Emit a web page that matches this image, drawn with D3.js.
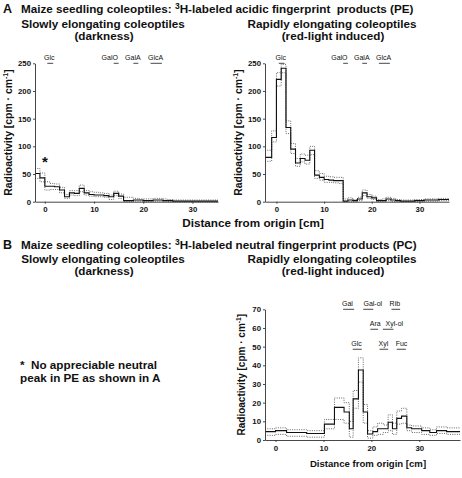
<!DOCTYPE html>
<html><head><meta charset="utf-8">
<script src="https://cdn.jsdelivr.net/npm/d3@7"></script>
<style>body{margin:0;background:#fff} text{font-family:"Liberation Sans",Arial,Helvetica,sans-serif}</style>
</head><body><svg id="c" width="462" height="478"></svg>
<script>
// ---------- DATA ----------
// Panel A, left (darkness): 1-cm bins, edges in cm
const edgesAL = [-2,-1,0,1,2,3,4,5,6,7,8,9,10,11,12,13,14,15,16,17,18,19,20,21,22,23,24,25,26,27,28,29,30,31,32,33,34,35.2];
const meanAL  = [51,43,28,28,27,21,9,16,15,24,16,13,12,12,11,9,15,10,2,2,3,3,2,2,3,3,2,2,1,1,1,1,1,1,1,1,1];
const upperAL = [60,52,36,33,32,26,13,20,20,30,20,18,17,16,15,12,19,14,8,8,6,5,5,5,6,6,5,4,3,3,3,3,3,3,3,3,3];
const lowerAL = [42,36,21,22,22,16,6,12,11,18,12,10,9,9,8,4,11,6,0,0,1,1,0,0,1,1,0,0,0,0,0,0,0,0,0,0,0];
// Panel A, right (red light)
const edgesAR = [-2.4,-1,0,1,2,3,4,5,6,7,8,9,10,11,12,13,14,15,16,17,18,19,20,21,22,23,24,25,26,27,28,29,30,31,32,33,34,35,36.2];
const meanAR  = [80,116,221,241,134,95,70,78,75,93,48,44,40,39,38,38,1,3,2,5,16,9,7,2,2,5,3,2,1,1,1,2,2,3,3,3,4,4];
const upperAR = [93,128,233,248,146,105,78,86,84,100,56,51,46,45,44,44,5,7,4,8,21,13,10,4,5,8,6,4,3,3,3,4,4,5,5,5,6,6];
const lowerAR = [73,108,209,233,123,87,64,72,68,85,42,39,35,35,34,33,0,0,0,2,11,6,4,0,0,2,0,0,0,0,0,0,0,1,1,1,2,2];
// Panel B, right (red light), variable-width fractions
const edgesBR = [-2.2,0,2.3,6.5,10.2,12.3,14.3,15.4,16.2,17.3,18.3,19.2,20.3,21.3,22.5,23.5,24.4,25.3,26.3,27.4,28.4,30.5,32.2,33.6,35.7,38.5];
const meanBR  = [4.5,5,4,3.5,8.5,17.5,15,6,22,37.5,15,3.2,4.5,6,6,9.5,6,11.6,12.8,6.6,6,5,4,5,4.5];
const upperBR = [6,6.5,5.5,5,11,22.5,20,10,26.5,44,19,5,7,9,8,13.5,9,15.5,17,8,7.5,6.5,5.5,7,6.5];
const lowerBR = [2.5,3,2,1.5,6,11,9,1.5,17,31,9,1,2.5,3,4,5,3,8.5,9,5,4,3,2.5,3.5,3];

// Standards (acidic)
const stdA_names = ["Glc","GalO","GalA","GlcA"];
const stdA_text  = [0.9,13.2,17.9,22.5];
const stdA_from  = [0.5,14.0,18.0,21.5];
const stdA_to    = [1.7,15.0,19.0,23.8];
// Standards (neutral)
const stdB_names = ["Gal","Gal-ol","Rib","Ara","Xyl-ol","Glc","Xyl","Fuc"];
const stdB_row   = [0,0,0,1,1,2,2,2];
const stdB_text  = [15.0,20.3,24.9,20.8,24.8,16.9,22.5,26.3];
const stdB_from  = [14.1,18.3,24.2,19.8,22.4,16.1,21.7,25.3];
const stdB_to    = [16.4,20.4,26.0,21.4,24.6,18.0,23.5,27.2];

const ticksA_y = [0,50,100,150,200,250];
const ticksB_y = [0,10,20,30,40,50,60,70];
const ticksX   = [0,10,20,30];

// ---------- DRAW ----------
const svg = d3.select("#c");
const FONT = '"Liberation Sans",Arial,sans-serif';

function stepLine(g, x, y, edges, vals, cls) {
  const pts = edges.map((e,i)=>[e, vals[Math.min(i, vals.length-1)]]);
  const line = d3.line().x(d=>x(d[0])).y(d=>y(d[1])).curve(d3.curveStepAfter);
  const p = g.append("path").attr("d", line(pts)).attr("fill","none");
  if (cls==="mean") p.attr("stroke","#111").attr("stroke-width",1.1);
  else p.attr("stroke","#555").attr("stroke-width",0.9).attr("stroke-dasharray","1,1.3");
}

function panel(o) {
  const x = d3.scaleLinear().domain(o.xd).range(o.xr);
  const y = d3.scaleLinear().domain(o.yd).range(o.yr);
  const g = svg.append("g");
  stepLine(g,x,y,o.edges,o.lower,"band");
  stepLine(g,x,y,o.edges,o.upper,"band");
  stepLine(g,x,y,o.edges,o.mean,"mean");
  const ya = g.append("g").attr("transform",`translate(${o.xr[0]},0)`)
    .call(d3.axisLeft(y).tickValues(o.yt).tickSize(2).tickSizeOuter(0).tickPadding(2));
  const xa = g.append("g").attr("transform",`translate(0,${o.yr[0]})`)
    .call(d3.axisBottom(x).tickValues(ticksX).tickSize(2).tickSizeOuter(0).tickPadding(3));
  [ya,xa].forEach(a=>{
    a.selectAll("path,line").attr("stroke","#333").attr("stroke-width",0.9);
    a.selectAll("text").attr("font-family",FONT).attr("font-size",7.8).attr("font-weight","bold").attr("fill","#111");
  });
  // y label
  const yl = g.append("text").attr("transform",`translate(${o.ylx},${(o.yr[0]+o.yr[1])/2}) rotate(-90)`)
    .attr("text-anchor","middle").attr("font-size",o.yls).attr("font-weight","bold").attr("fill","#111");
  yl.append("tspan").text("Radioactivity [cpm \u00b7 cm");
  yl.append("tspan").attr("dy",-3.5).attr("font-size",o.yls*0.68).text("-1");
  yl.append("tspan").attr("dy",3.5).text("]");
  return {x,y,g};
}

function stdMarks(p, names, tx, from, to, rowY) {
  names.forEach((n,i)=>{
    const ly = rowY(i);
    p.g.append("line").attr("x1",p.x(from[i])).attr("x2",p.x(to[i])).attr("y1",ly).attr("y2",ly)
      .attr("stroke","#333").attr("stroke-width",0.9);
    p.g.append("text").attr("x",p.x(tx[i])).attr("y",ly-3).attr("text-anchor","middle")
      .attr("font-size",7).attr("fill","#111").text(n);
  });
}

// titles
function bold(xp, yp, txt, size, anchor) {
  return svg.append("text").attr("x",xp).attr("y",yp).attr("font-size",size).attr("font-weight","bold")
    .attr("text-anchor",anchor||"start").attr("fill","#111").text(txt);
}
const TS = 11.7;
bold(3,13,"A",12.5);
const tA = svg.append("text").attr("x",21).attr("y",13).attr("font-size",TS).attr("font-weight","bold").attr("fill","#111");
tA.append("tspan").text("Maize seedling coleoptiles: ");
tA.append("tspan").attr("dy",-4).attr("font-size",8.5).text("3");
tA.append("tspan").attr("dy",4).text("H-labeled acidic fingerprint\u00a0 products (PE)");
bold(103,28,"Slowly elongating coleoptiles",TS,"middle");
bold(104,40,"(darkness)",TS,"middle");
bold(332,28,"Rapidly elongating coleoptiles",TS,"middle");
bold(333,40,"(red-light induced)",TS,"middle");

bold(3,249,"B",12.5);
const tB = svg.append("text").attr("x",21).attr("y",249).attr("font-size",TS).attr("font-weight","bold").attr("fill","#111");
tB.append("tspan").text("Maize seedling coleoptiles: ");
tB.append("tspan").attr("dy",-4).attr("font-size",8.5).text("3");
tB.append("tspan").attr("dy",4).text("H-labeled neutral fingerprint products (PC)");
bold(103,263,"Slowly elongating coleoptiles",TS,"middle");
bold(104,275,"(darkness)",TS,"middle");
bold(332,263,"Rapidly elongating coleoptiles",TS,"middle");
bold(333,275,"(red-light induced)",TS,"middle");

// Panel A left
const pAL = panel({xd:[-2,35.2], xr:[35,218], yd:[0,250], yr:[201.7,63.3], yt:ticksA_y,
  edges:edgesAL, mean:meanAL, upper:upperAL, lower:lowerAL, ylx:11.5, yls:10.4});
stdMarks(pAL, stdA_names, stdA_text, stdA_from, stdA_to, ()=>pAL.y(250));
pAL.g.append("text").attr("x",pAL.x(0)).attr("y",pAL.y(62)).attr("text-anchor","middle")
  .attr("font-size",15).attr("font-weight","bold").attr("fill","#111").text("*");

// Panel A right
const pAR = panel({xd:[-2.4,36.2], xr:[265,449], yd:[0,250], yr:[201.7,63.3], yt:ticksA_y,
  edges:edgesAR, mean:meanAR, upper:upperAR, lower:lowerAR, ylx:241.5, yls:10.4});
stdMarks(pAR, stdA_names, stdA_text, stdA_from, stdA_to, ()=>pAR.y(250));

bold(253,227,"Distance from origin [cm]",11.7,"middle");

// Panel B right
const pBR = panel({xd:[-2.2,38.5], xr:[265,460], yd:[0,70], yr:[440,309.3], yt:ticksB_y,
  edges:edgesBR, mean:meanBR, upper:upperBR, lower:lowerBR, ylx:244.5, yls:10});
const rowVal = [70,59.3,48.6];
stdMarks(pBR, stdB_names, stdB_text, stdB_from, stdB_to, i=>pBR.y(rowVal[stdB_row[i]]));
bold(368,467,"Distance from origin [cm]",9.6,"middle");

// note
bold(20,369,"*\u00a0 No appreciable neutral",11.7);
bold(20,382,"peak in PE as shown in A",11.7);
</script></body></html>
